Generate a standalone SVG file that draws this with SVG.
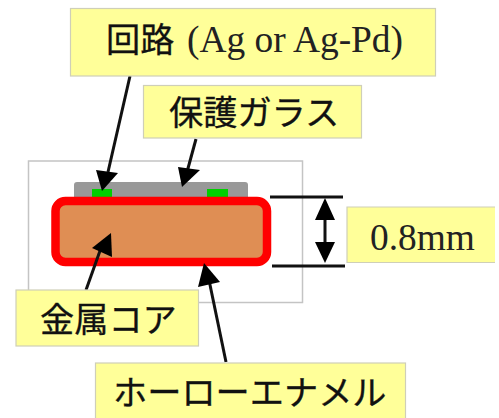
<svg xmlns="http://www.w3.org/2000/svg" width="499" height="418" viewBox="0 0 499 418">
<style>
.label{fill:#ffff99;stroke:#cfcfb8;stroke-width:1.2}
.t{font-family:"Noto Sans CJK JP","Liberation Serif",sans-serif;font-size:34.2px;fill:#111;stroke:#111;stroke-width:.3}
.s{font-family:"Liberation Serif","Noto Sans CJK JP",serif;font-size:37.4px;fill:#222}
.c{stroke:#111;stroke-width:3;fill:none}
.h{fill:#000;stroke:none}
</style>
<rect width="499" height="418" fill="#fff"/>
<g id="frame"><rect x="28.500" y="161" width="274" height="141.500" fill="#fff" stroke="#c4c4c4" stroke-width="1.500"/></g>
<g id="glass"><path d="M74 197V185q0-3 3-3H245q3 0 3 3V197Z" fill="#999"/></g>
<g id="pad-left"><rect x="92" y="189" width="20" height="8" fill="#00d000"/></g>
<g id="pad-right"><rect x="207" y="189" width="21" height="8" fill="#00d000"/></g>
<g id="core"><rect x="55.500" y="201" width="211.500" height="61" rx="10" fill="#df8e54" stroke="#ff0000" stroke-width="8.500"/></g>
<g id="connectors">
<line class="c" x1="130" y1="76" x2="108" y2="172"/><polygon class="h" points="102,191 96,170 118,173"/>
<line class="c" x1="196" y1="139" x2="187" y2="172"/><polygon class="h" points="182,187 178,167 200,170"/>
<line class="c" x1="86" y1="290" x2="101" y2="248"/><polygon class="h" points="111,233 112,257 92,248"/>
<line class="c" x1="226" y1="362" x2="209" y2="280"/><polygon class="h" points="204,263 220,282 198,287"/>
<line class="c" x1="270" y1="197" x2="343" y2="197"/>
<line class="c" x1="272" y1="266" x2="345" y2="266"/>
<line class="c" x1="325" y1="215" x2="325" y2="248"/>
<polygon class="h" points="325,198 315,220 335,220"/>
<polygon class="h" points="325,263 315,242 335,242"/>
</g>
<g id="label-circuit"><rect class="label" x="70.500" y="8.500" width="365" height="67.500"/><text x="106" y="52" class="t">回路</text><text x="187" y="52" class="s">(Ag or Ag-Pd)</text></g>
<g id="label-glass"><rect class="label" x="143.500" y="85.500" width="218" height="52.500"/><text x="169" y="125" class="t">保護ガラス</text></g>
<g id="label-size"><path class="label" d="M495 207H347V262.500H495"/><rect x="495" y="206" width="4" height="58" fill="#fff"/><text x="370" y="250" class="s">0.8mm</text></g>
<g id="label-core"><rect class="label" x="16" y="290" width="182.500" height="56"/><text x="40" y="332" class="t">金属コア</text></g>
<g id="label-enamel"><rect class="label" x="95.500" y="363" width="310" height="60"/><text x="113" y="405" class="t">ホーローエナメル</text></g>
</svg>
